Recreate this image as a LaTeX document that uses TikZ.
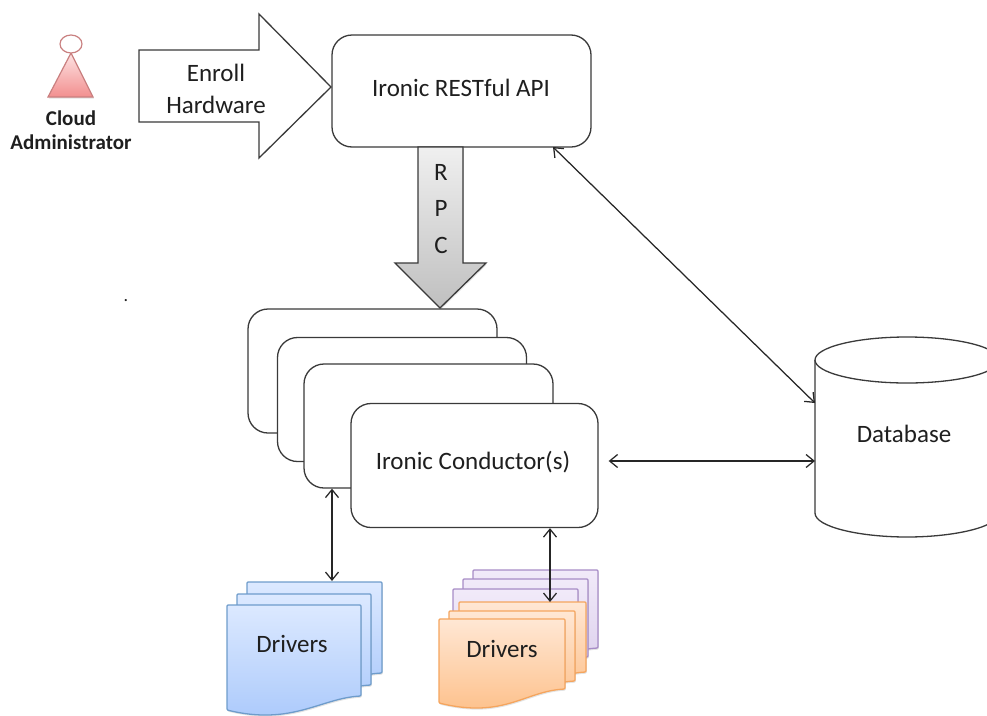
\documentclass[tikz,border=0pt]{standalone}
\usepackage{fontspec}
\setmainfont{Carlito}
\usepackage{xcolor}
\usepackage{tikz}
\usetikzlibrary{arrows.meta}
\usetikzlibrary{shadows}
\definecolor{linedark}{HTML}{3A3A3A}
\definecolor{bluetop}{HTML}{DCE9FF}
\definecolor{bluelow}{HTML}{A9C8FB}
\definecolor{blueline}{HTML}{6E9CCB}
\definecolor{orangetop}{HTML}{FFE7D4}
\definecolor{orangelow}{HTML}{FDBE86}
\definecolor{orangeline}{HTML}{F5A55E}
\definecolor{purpletop}{HTML}{F1EAF9}
\definecolor{purplelow}{HTML}{DACDEB}
\definecolor{purpleline}{HTML}{A78CC6}
\definecolor{pinktop}{HTML}{FDE3E3}
\definecolor{pinklow}{HTML}{F28F8F}
\definecolor{pinkline}{HTML}{C98080}
\tikzset{
  softshadow/.style={drop shadow={opacity=.22, shadow xshift=.8pt, shadow yshift=-1.6pt}},
  apibox/.style={draw=linedark, line width=1.3pt, rounded corners=20pt, fill=white, minimum width=#1, minimum height=124pt, inner sep=0pt},
  apibox/.default=249pt,
  biglink/.style={<->, >={Straight Barb[length=8pt,width=13pt]}, line width=1.25pt, draw=black!85},
  bluepage/.style={draw=blueline, line width=1.3pt, top color=bluetop, bottom color=bluelow, softshadow},
  orangepage/.style={draw=orangeline, line width=1.3pt, top color=orangetop, bottom color=orangelow, softshadow},
  purplepage/.style={draw=purpleline, line width=1.3pt, top color=purpletop, bottom color=purplelow, softshadow}
}
% one sheet of a driver stack: left, top, right, bottom
\newcommand{\driverpage}[5]{
  \draw [#5, rounded corners=1pt] (#1,#2) -- (#3,#2) -- (#3,#4)
    .. controls ({#3-40},{#4+2}) and ({#1+65},{#4+30}) .. (#1,{#4+14}) -- cycle;
}
\begin{document}
\begin{tikzpicture}[x=1pt,y=-1pt]
\tikzstyle{every node}=[font=\fontsize{25}{30}\selectfont, text=black!88]
\clip (0,0) rectangle (987,715);
% actor
\draw [draw=pinkline, line width=1.2pt, top color=pinktop, bottom color=pinklow, softshadow] (71,53) -- (93,97) -- (48,97) -- cycle;
\draw [draw=pinkline, line width=1.2pt, fill=white] (71,44) ellipse (11 and 9);
\node [font=\fontsize{21}{24}\selectfont\bfseries, align=center] (admin) at (71,130) {Cloud\\Administrator};
% enroll arrow
\draw [draw=linedark, line width=1.3pt, fill=white] (139,50) -- (259,50) -- (259,14) -- (331,87) -- (259,158) -- (259,122) -- (139,122) -- cycle;
\node (enroll) at (216,73) {Enroll};
\node (hardware) at (216,105) {Hardware};
% api
\node [apibox=259pt, minimum height=112pt] (api) at (461.5,91) {};
\node (apitext) at (461,88) {Ironic RESTful API};
% rpc arrow
\draw [draw=linedark, line width=1.3pt, top color=gray!12, bottom color=gray!50, softshadow] (418,147) -- (463,147) -- (463,263) -- (486,263) -- (440,308) -- (395,263) -- (418,263) -- cycle;
\node (rpcr) at (441,172) {R};
\node (rpcp) at (441,208) {P};
\node (rpcc) at (441,245) {C};
% conductors
\node [apibox] (conda) at (372.5,371) {};
\node [apibox] (condb) at (402,399.5) {};
\node [apibox] (condc) at (428.5,426) {};
\node [apibox=247pt] (condd) at (474.5,465.5) {};
\node (condtext) at (473,462) {Ironic Conductor(s)};
% database
\draw [draw=linedark, line width=1.3pt, fill=white] (815,360) -- (815,513) .. controls (815,527) and (860,537) .. (907,537) .. controls (954,537) and (999,527) .. (999,513) -- (999,360);
\draw [draw=linedark, line width=1.3pt, fill=white] (907,360) ellipse (92 and 23);
\node (db) at (904,434) {Database};
% drivers
\driverpage{247}{582}{382}{673}{bluepage}
\driverpage{237}{594}{371}{685}{bluepage}
\driverpage{227}{605}{361}{696}{bluepage}
\node (drva) at (292,644) {Drivers};
\driverpage{473}{570}{598}{648}{purplepage}
\driverpage{463}{579}{588}{657}{purplepage}
\driverpage{453}{589}{578}{667}{purplepage}
\driverpage{459}{602}{586}{672}{orangepage}
\driverpage{449}{611}{575}{681}{orangepage}
\driverpage{439}{619}{565}{689}{orangepage}
\node (drvb) at (502,649) {Drivers};
% links
\coordinate (dbupper) at (815,403);
\coordinate (dbmid) at (815,461);
\coordinate (bluedoc) at (332,581);
\coordinate (orangedoc) at (550,602);
\draw [biglink] (553,147) -- (dbupper);
\draw [biglink] (condd.east |- dbmid) ++(10,0) -- (dbmid);
\draw [biglink] (bluedoc |- condc.south) -- (bluedoc);
\draw [biglink] (orangedoc |- condd.south) -- (orangedoc);
\node [font=\fontsize{18}{18}\selectfont, inner sep=0pt] (speck) at (126,301) {.};
\end{tikzpicture}
\end{document}
